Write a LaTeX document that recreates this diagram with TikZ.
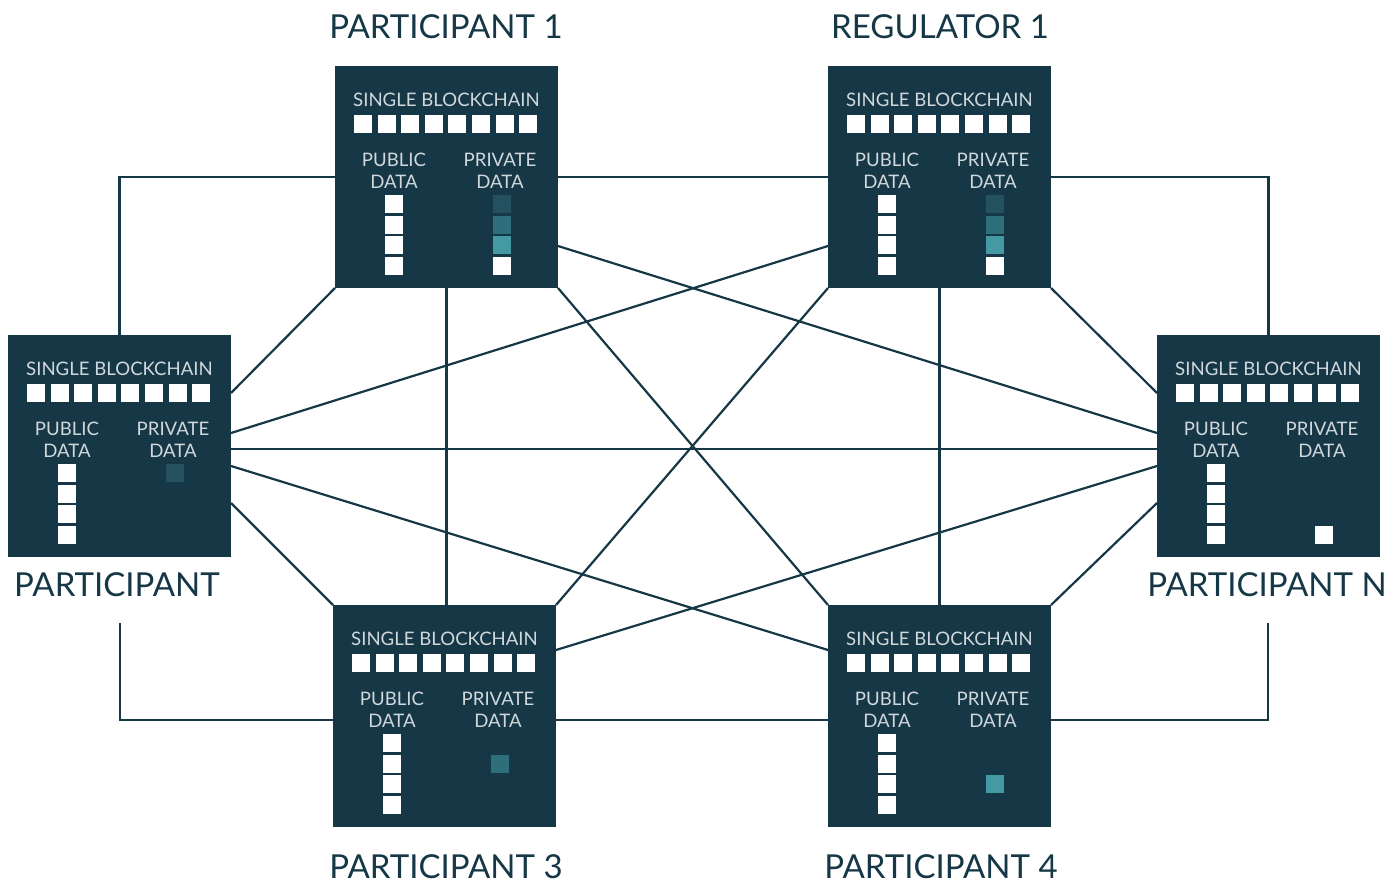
\documentclass[tikz,border=0pt]{standalone}
\usepackage{fontspec}
\setmainfont{Lato}
\usetikzlibrary{backgrounds}
\definecolor{navy}{HTML}{163746}
\definecolor{paletext}{HTML}{D0D8DC}
\definecolor{privA}{HTML}{245160}
\definecolor{privB}{HTML}{2F6E7B}
\definecolor{privC}{HTML}{4499A4}
\tikzset{
  ledgerbox/.style={fill=navy, minimum width=223pt, minimum height=222pt, inner sep=0pt, outer sep=0pt},
  intext/.style={text=paletext, font=\fontsize{18.6}{22}\selectfont, anchor=base, inner sep=0pt},
  caption/.style={text=navy, font=\fontsize{33}{37}\selectfont, anchor=base, inner sep=0pt},
  link/.style={draw=navy, line width=2.2pt},
}
% #1 name, #2 left x, #3 top y, #4 private blocks as slot/colour
\newcommand\ledger[4]{%
  \node[ledgerbox] (#1) at ({#2+111.5},{#3+111}) {};
  \begin{scope}[shift={(#2,#3)}]
    \node[intext] (#1-chain) at (111.5,40) {SINGLE BLOCKCHAIN};
    \foreach \i in {0,...,7} \fill[white] ({19+23.6*\i},49) rectangle ++(18,18);
    \node[intext] (#1-pub) at (59,100) {PUBLIC};
    \node[intext] (#1-pubd) at (59,122) {DATA};
    \node[intext] (#1-priv) at (165,100) {PRIVATE};
    \node[intext] (#1-privd) at (165,122) {DATA};
    \foreach \s in {0,...,3} \fill[white] (50,{129+20.7*\s}) rectangle ++(18,18);
    \foreach \s/\c in {#4} \fill[\c] (158,{129+20.7*\s}) rectangle ++(18,18);
  \end{scope}}
\begin{document}
\begin{tikzpicture}[x=1pt,y=-1pt]
\useasboundingbox (0,0) rectangle (1399,881);

% ledgers
\ledger{p1}{335}{66}{0/privA,1/privB,2/privC,3/white}
\ledger{r1}{828}{66}{0/privA,1/privB,2/privC,3/white}
\ledger{pleft}{8}{335}{0/privA}
\ledger{pn}{1157}{335}{3/white}
\ledger{p3}{333}{605}{1/privB}
\ledger{p4}{828}{605}{2/privC}

% captions
\node[caption] (cap-p1) at (446,38) {PARTICIPANT 1};
\node[caption] (cap-r1) at (940,38) {REGULATOR 1};
\node[caption] (cap-pleft) at (117,596) {PARTICIPANT};
\node[caption] (cap-pn) at (1267,596) {PARTICIPANT N};
\node[caption] (cap-p3) at (446,878) {PARTICIPANT 3};
\node[caption] (cap-p4) at (941,878) {PARTICIPANT 4};

\coordinate (stub-left) at (120,623);
\coordinate (stub-right) at (1268,623);

% network links
\begin{scope}[on background layer]
  \draw[link] (p1.west) -| (pleft.north);
  \draw[link] (r1.east) -| (pn.north);
  \draw[link] (stub-left) |- ([yshift=-4pt]p3.west);
  \draw[link] (stub-right) |- ([yshift=-4pt]p4.east);
  \draw[link] (p1.east) -- (r1.west);
  \draw[link] ([yshift=-4pt]p3.east) -- ([yshift=-4pt]p4.west);
  \draw[link] (p1.south) -- (p1.south |- p3.north);
  \draw[link] (r1.south) -- (r1.south |- p4.north);
  \draw[link] (p1.south west) -- ([yshift=53pt]pleft.east);
  \draw[link] (p1.south east) -- (p4.north west);
  \draw[link] (r1.south west) -- (p3.north east);
  \draw[link] (r1.south east) -- ([yshift=53pt]pn.west);
  \draw[link] ([yshift=-69pt]p1.east) -- ([yshift=13pt]pn.west);
  \draw[link] ([yshift=-69pt]r1.west) -- ([yshift=13pt]pleft.east);
  \draw[link] ([yshift=-3pt]pleft.east) -- ([yshift=-3pt]pn.west);
  \draw[link] ([yshift=-20pt]pleft.east) -- ([yshift=66pt]p4.west);
  \draw[link] ([yshift=-20pt]pn.west) -- ([yshift=66pt]p3.east);
  \draw[link] ([yshift=-57pt]pleft.east) -- (p3.north west);
  \draw[link] ([yshift=-57pt]pn.west) -- (p4.north east);
\end{scope}
\end{tikzpicture}
\end{document}
